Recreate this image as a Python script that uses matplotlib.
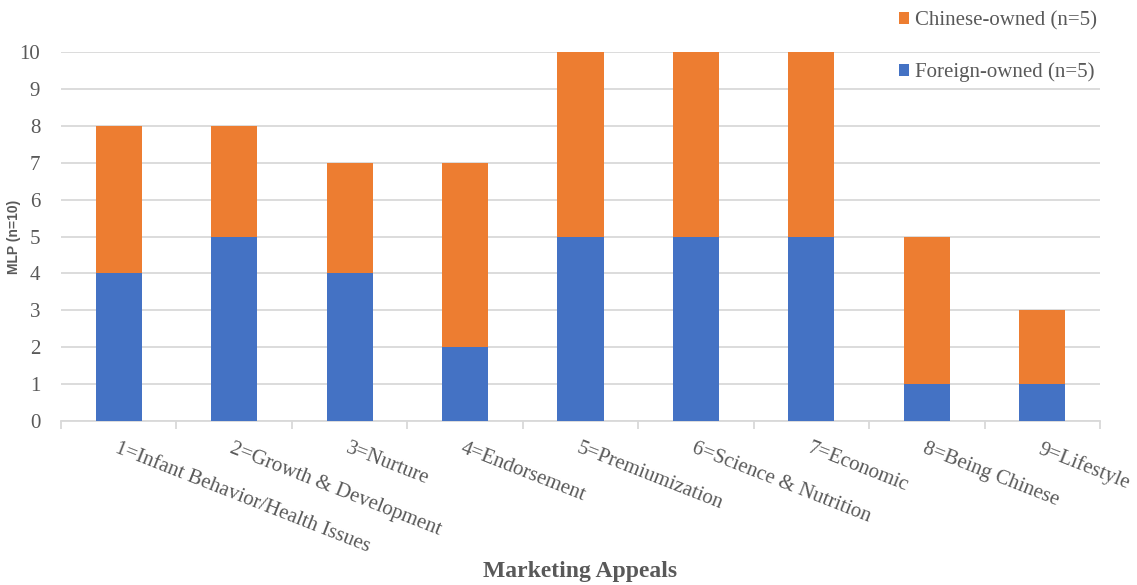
import numpy as np
import matplotlib.pyplot as plt
from matplotlib.ticker import FixedLocator

# data
categories = ['1=Infant Behavior/Health Issues', '2=Growth & Development', '3=Nurture',
              '4=Endorsement', '5=Premiumization', '6=Science & Nutrition',
              '7=Economic', '8=Being Chinese', '9=Lifestyle']
foreign = [4, 5, 4, 2, 5, 5, 5, 1, 1]
chinese = [4, 3, 3, 5, 5, 5, 5, 4, 2]

BLUE = '#4472C4'
ORANGE = '#ED7D31'
GRID = '#D9D9D9'
TEXT = '#595959'

serif = ['Liberation Serif', 'DejaVu Serif']

fig = plt.figure(figsize=(11.37, 5.85), dpi=100)
ax = fig.add_axes([61 / 1137, 1 - 421 / 585, (1100 - 61) / 1137, (421 - 52) / 585])

x = np.arange(len(categories))
b1 = ax.bar(x, foreign, width=0.4, color=BLUE, label='Foreign-owned (n=5)', zorder=3)
b2 = ax.bar(x, chinese, width=0.4, bottom=foreign, color=ORANGE,
            label='Chinese-owned (n=5)', zorder=3)

ax.set_xlim(-0.5, len(categories) - 0.5)
ax.set_ylim(0, 10)
ax.set_yticks(range(0, 11))
ax.grid(axis='y', color=GRID, linewidth=1.3, zorder=0)
ax.set_axisbelow(True)

for s in ['top', 'right', 'left']:
    ax.spines[s].set_visible(False)
ax.spines['bottom'].set_color(GRID)
ax.spines['bottom'].set_linewidth(1.3)

ax.set_xticks(x)
ax.set_xticklabels(categories, rotation=-21.5, ha='left', va='top',
                   rotation_mode='anchor', family=serif, fontsize=15, color=TEXT)
ax.xaxis.set_minor_locator(FixedLocator(np.arange(-0.5, len(categories), 1.0)))
ax.tick_params(axis='x', which='major', length=0, pad=13)
ax.tick_params(axis='x', which='minor', length=6, color=GRID, width=1.3)
ax.tick_params(axis='y', length=0, pad=15)
for lbl in ax.get_yticklabels():
    lbl.set_family(serif)
    lbl.set_fontsize(15)
    lbl.set_color(TEXT)

ax.set_ylabel('MLP (n=10)', fontsize=10, fontweight='bold', color=TEXT,
              family=['Liberation Sans', 'DejaVu Sans'])
ax.yaxis.set_label_coords((21 - 61) / 1039, 0.5)
fig.text(580 / 1137, 1 - 571 / 585, 'Marketing Appeals', ha='center', va='center',
         family=serif, fontsize=17, fontweight='bold', color=TEXT)

fig.legend([b2, b1], ['Chinese-owned (n=5)', 'Foreign-owned (n=5)'],
           loc='upper left', bbox_to_anchor=(880 / 1137, 1 + 8 / 585),
           frameon=False, prop={'family': serif, 'size': 15}, labelcolor=TEXT,
           handlelength=0.5, handleheight=0.5, handletextpad=0.3,
           labelspacing=1.55)

fig.savefig('out.png', dpi=100)
